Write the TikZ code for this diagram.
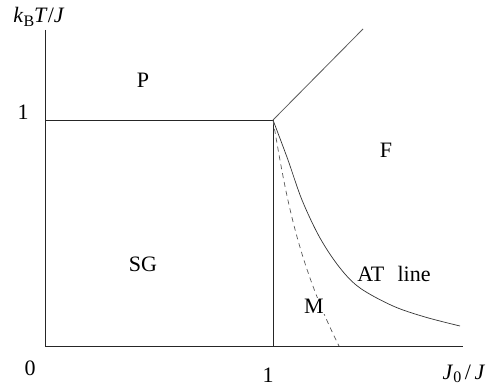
\documentclass[tikz,border=0pt]{standalone}
\usepackage{fontspec}
\setmainfont{Liberation Serif}
\newcommand{\sublow}[1]{\raisebox{-0.35ex}{\fontsize{16}{18}\selectfont #1}}
\begin{document}
\begin{tikzpicture}[x=1pt, y=-1pt, font=\fontsize{22}{25}\selectfont,
    axis/.style={black!85, line width=0.8pt},
    border/.style={black!85, line width=0.8pt},
    atline/.style={black!80, line width=0.7pt},
    mline/.style={black!65, line width=0.7pt, dash pattern=on 5pt off 4pt},
    lab/.style={inner sep=1pt},
    onlab/.style={lab, fill=white}]
  \useasboundingbox (0,0) rectangle (490,387);
  % axes
  \coordinate (origin) at (45,346);
  \coordinate (ytop) at (45,30);
  \coordinate (xend) at (463,346);
  \draw[axis] (ytop) -- (origin) -- (xend);
  % phase boundaries
  \coordinate (pA) at (45,120);
  \coordinate (tri) at (273,120);
  \coordinate (xone) at (273,346);
  \coordinate (diagend) at (363,29);
  \coordinate (atend) at (460,326);
  \coordinate (mend) at (339,346);
  \draw[border] (pA) -- (tri) -- (xone);
  \draw[border, black!65] (tri) -- (diagend);
  \draw[atline] plot[smooth, tension=0.55] coordinates
    {(tri) (288,160) (302,200) (320,238) (340,268) (360,288) (393,306) (425,317) (atend)};
  \draw[mline] (tri) .. controls (285,190) and (296,260) .. (mend);
  % labels
  \node[lab] (ylab) at (39,17) {\textit{k}\sublow{B}\textit{T}/\textit{J}};
  \node[lab] (xlab) at (464,374) {\textit{J}\sublow{0}\,/\,\textit{J}};
  \node[lab] (zero) at (30,368) {0};
  \node[lab] (yone) at (23,112) {1};
  \node[lab] (xonelab) at (268,375) {1};
  \node[lab] (para) at (143,80) {P};
  \node[lab] (ferro) at (386,150) {F};
  \node[lab] (spin) at (143,264) {SG};
  \node[onlab] (mixed) at (314,306) {M};
  \node[onlab] (atlab) at (394,274) {AT\hspace{0.6em}line};
\end{tikzpicture}
\end{document}
